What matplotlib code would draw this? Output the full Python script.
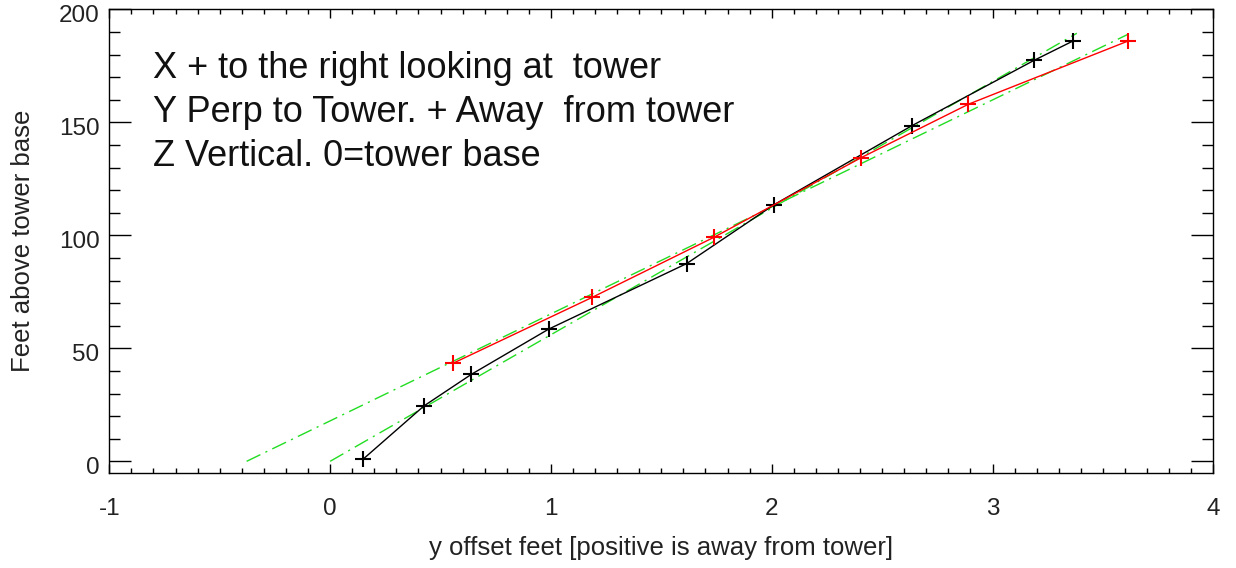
import matplotlib
matplotlib.use('Agg')
import matplotlib.pyplot as plt
import matplotlib.transforms as mtransforms
from matplotlib.ticker import MultipleLocator

plt.rcParams['font.family'] = ['Liberation Sans', 'DejaVu Sans']
plt.rcParams['axes.unicode_minus'] = False

# measured tower offsets (y offset feet vs height)
black_y = [0.15, 0.425, 0.64, 0.99, 1.615, 2.01, 2.635, 3.19, 3.365]
black_z = [1, 24.5, 38.5, 58.5, 87.5, 113.5, 148.5, 177.5, 186]

red_y = [0.557, 1.186, 1.738, 2.404, 2.891, 3.615]
red_z = [43.4, 72.5, 99.1, 134.3, 158, 186]

# straight-line fits (green dash-dot)
fit_red_y = [-0.378, 3.615]
fit_red_z = [0, 189]
fit_black_y = [0.0, 3.382]
fit_black_z = [0, 189.4]

notes = ['X + to the right looking at  tower',
         'Y Perp to Tower. + Away  from tower',
         'Z Vertical. 0=tower base']

fig = plt.figure(figsize=(12.36, 5.68), dpi=100)
ax = fig.add_axes([109.3 / 1236, 1 - 473.3 / 568, 1104 / 1236, 464 / 568])

dash = (0, (11, 4, 1.5, 4))
ax.plot(fit_red_y, fit_red_z, color='#22dd22', lw=1, linestyle=dash)
ax.plot(fit_black_y, fit_black_z, color='#22dd22', lw=1, linestyle=dash)

ax.plot(black_y, black_z, color='black', lw=1, marker='+', ms=12, mew=1.5)
ax.plot(red_y, red_z, color='red', lw=1, marker='+', ms=12, mew=1.5)

ax.set_xlim(-1, 4)
ax.set_ylim(-5.3, 200)
ax.set_xticks([-1, 0, 1, 2, 3, 4])
ax.set_yticks([0, 50, 100, 150, 200])
ax.xaxis.set_minor_locator(MultipleLocator(0.1))
ax.yaxis.set_minor_locator(MultipleLocator(10))

ax.tick_params(axis='x', which='major', direction='in', length=6.7, width=1,
               top=True, labelsize=17.5, pad=18, labelcolor='#222222')
ax.tick_params(axis='x', which='minor', direction='in', length=3.4, width=1, top=True)
ax.tick_params(axis='y', which='major', direction='in', length=15.8, width=1,
               right=True, labelsize=17.5, pad=7, labelcolor='#222222')
ax.tick_params(axis='y', which='minor', direction='in', length=7.9, width=1, right=True)

# y tick labels sit a few pixels below their ticks in the original
shift = mtransforms.ScaledTranslation(0, -4.5 / 100, fig.dpi_scale_trans)
for lab in ax.get_yticklabels():
    lab.set_transform(lab.get_transform() + shift)

for sp in ax.spines.values():
    sp.set_linewidth(1)

ax.set_xlabel('y offset feet [positive is away from tower]', fontsize=18.5,
              color='#222222', labelpad=11)
ax.set_ylabel('Feet above tower base', fontsize=18.5, color='#222222', labelpad=17)

for i, line in enumerate(notes):
    ax.text(153.3 / 1236, 1 - (68 + i * 44.5) / 568, line, transform=fig.transFigure,
            fontsize=26, va='center', ha='left', color='#111111')

fig.savefig('out.png', dpi=100)
